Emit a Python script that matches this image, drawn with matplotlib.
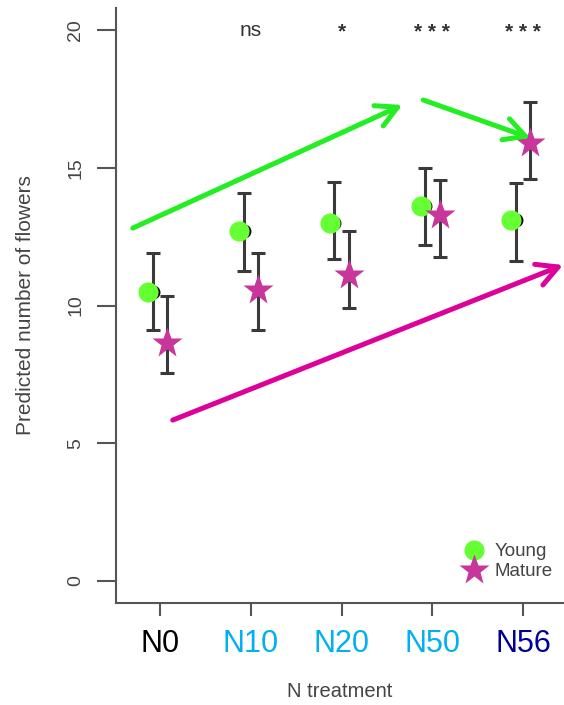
import matplotlib
matplotlib.use("Agg")
import matplotlib.pyplot as plt
from matplotlib.lines import Line2D

plt.rcParams["font.family"] = ["Liberation Sans", "DejaVu Sans"]

# data
treatments = ["N0", "N10", "N20", "N50", "N56"]
label_colors = ["black", "#00B0F0", "#00B0F0", "#00B0F0", "#000099"]
young = [10.5, 12.7, 13.0, 13.6, 13.1]
young_lo = [9.1, 11.25, 11.7, 12.2, 11.6]
young_hi = [11.9, 14.1, 14.5, 15.0, 14.45]
mature = [8.65, 10.55, 11.1, 13.3, 15.9]
mature_lo = [7.55, 9.1, 9.9, 11.75, 14.6]
mature_hi = [10.35, 11.9, 12.7, 14.55, 17.4]
signif = ["", "ns", "*", "* * *", "* * *"]

x = list(range(1, len(treatments) + 1))
off = 0.08
gray = "#555555"

fig = plt.figure(figsize=(5.64, 7.05), dpi=100)
ax = fig.add_axes([116 / 564, 1 - 603 / 705, 448 / 564, 595 / 705])
ax.set_xlim(0.515, 5.45)
ax.set_ylim(-0.8, 20.8)

xy_ = [i - off for i in x]
xm_ = [i + off for i in x]
ax.errorbar(xy_, young,
            yerr=[[a - b for a, b in zip(young, young_lo)], [b - a for a, b in zip(young, young_hi)]],
            fmt="o", color="black", ms=9, ecolor="#3a3a3a", elinewidth=2.2, capsize=5, capthick=2.2, zorder=2)
ax.errorbar(xm_, mature,
            yerr=[[a - b for a, b in zip(mature, mature_lo)], [b - a for a, b in zip(mature, mature_hi)]],
            fmt="none", ecolor="#3a3a3a", elinewidth=2.2, capsize=5, capthick=2.2, zorder=2)
ax.plot([i - 0.05 for i in xy_], young, "o", color="#66FF33", ms=14.5, mec="none", zorder=3)
ax.plot(xm_, mature, "*", color="#C8359B", ms=23, mec="none", zorder=3)

for xi, s in zip(x, signif):
    if s == "ns":
        ax.text(xi, 20.0, s, ha="center", va="center", fontsize=15, color="#333333")
    elif s:
        ax.text(xi, 19.92, s, ha="center", va="center", fontsize=15, fontweight="bold",
                color="#333333")

# arrows
green = "#22EE22"
for (x0, y0), (x1, y1), c in [((0.70, 12.81), (3.67, 17.28), green),
                              ((3.90, 17.46), (5.08, 16.08), green),
                              ((1.14, 5.84), (5.44, 11.47), "#DD0099")]:
    ax.annotate("", xy=(x1, y1), xytext=(x0, y0),
                arrowprops=dict(arrowstyle="->,head_length=0.75,head_width=0.4", lw=3.6, color=c,
                                shrinkA=0, shrinkB=0, mutation_scale=20),
                annotation_clip=False)

for side in ["top", "right"]:
    ax.spines[side].set_visible(False)
for side in ["left", "bottom"]:
    ax.spines[side].set_color(gray)
    ax.spines[side].set_linewidth(1.5)

ax.set_yticks([0, 5, 10, 15, 20])
ax.tick_params(axis="y", length=14, width=1.5, color=gray, labelsize=14, labelcolor="#444444",
               labelrotation=90, pad=9)
for lab in ax.get_yticklabels():
    lab.set_va("center")
ax.set_xticks(x)
ax.set_xticklabels(treatments, fontsize=22)
for lab, c in zip(ax.get_xticklabels(), label_colors):
    lab.set_color(c)
ax.tick_params(axis="x", length=9, width=1.5, color=gray, pad=10)

ax.set_ylabel("Predicted number of flowers", fontsize=15, color="#444444")
ax.yaxis.set_label_coords(-0.181, 0.5)
ax.set_xlabel("N treatment", fontsize=14.5, color="#444444")
ax.xaxis.set_label_coords(0.5, -0.132)

handles = [Line2D([], [], marker="o", ls="none", color="#66FF33", ms=14.5, mec="none"),
           Line2D([], [], marker="*", ls="none", color="#C8359B", ms=23, mec="none")]
ax.legend(handles, ["Young", "Mature"], loc="lower right", bbox_to_anchor=(1.0, 0.02), frameon=False,
          fontsize=13.5, labelcolor="#444444", handlelength=0.8, handletextpad=0.7, labelspacing=0.15,
          borderaxespad=0.2, handleheight=0.6)

fig.savefig("out.png", dpi=100)
